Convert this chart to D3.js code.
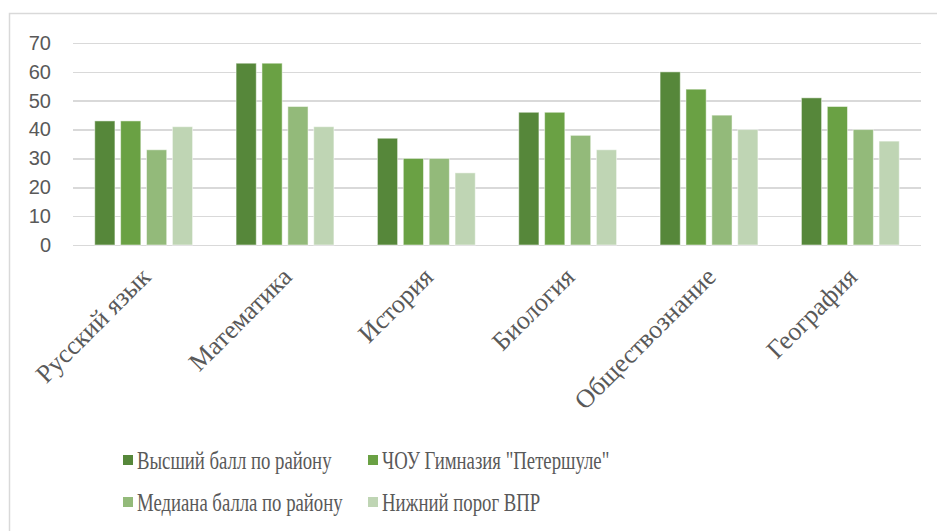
<!DOCTYPE html>
<html>
<head>
<meta charset="utf-8">
<style>
  body { margin: 0; background: #fff; }
  .grid line { stroke: #d9d9d9; stroke-width: 1.5; shape-rendering: crispEdges; }
  .grid path { stroke-width: 0; }
  .yax text { font-family: "Liberation Sans", Arial, sans-serif; font-size: 20px; fill: #595959; }
  .cat { font-family: "Liberation Serif", "Times New Roman", serif; font-size: 26px; fill: #595959; }
  .leg { font-family: "Liberation Serif", "Times New Roman", serif; font-size: 25px; fill: #595959; }
</style>
</head>
<body>
<svg width="937" height="531"></svg>
<script src="https://d3js.org/d3.v7.min.js"></script>
<script>
var subjects = ["Русский язык", "Математика", "История", "Биология", "Обществознание", "География"];
var seriesNames = ["Высший балл по району", "ЧОУ Гимназия \"Петершуле\"", "Медиана балла по району", "Нижний порог ВПР"];
var topDistrict = [43, 63, 37, 46, 60, 51];
var school      = [43, 63, 30, 46, 54, 48];
var median      = [33, 48, 30, 38, 45, 40];
var threshold   = [41, 41, 25, 33, 40, 36];
var yTicks = [0, 10, 20, 30, 40, 50, 60, 70];
var colors = ["#56873a", "#6aa144", "#93ba7a", "#bfd5b4"];

var series = [topDistrict, school, median, threshold];

var svg = d3.select("svg");

// chart frame (runs off the right/bottom edges)
svg.append("rect")
    .attr("x", 9.5).attr("y", 13.5)
    .attr("width", 950).attr("height", 540)
    .attr("fill", "none").attr("stroke", "#d9d9d9").attr("stroke-width", 1.5);

var plotL = 73, plotR = 921, plotT = 43, plotB = 245;

var x = d3.scaleBand().domain(subjects).range([plotL, plotR]);
var xs = d3.scaleBand().domain(d3.range(series.length)).range([0, x.bandwidth()]).paddingInner(0.22).paddingOuter(0.84);
var y = d3.scaleLinear().domain([0, 70]).range([plotB, plotT]);

// gridlines
svg.append("g")
    .attr("class", "grid")
    .attr("transform", "translate(" + plotL + ",0)")
    .call(d3.axisLeft(y).tickValues(yTicks).tickSize(-(plotR - plotL)).tickFormat(""));

// y labels
var yax = svg.append("g")
    .attr("class", "yax")
    .attr("transform", "translate(" + plotL + ",0)")
    .call(d3.axisLeft(y).tickValues(yTicks).tickSize(0).tickPadding(22));
yax.select(".domain").remove();
yax.selectAll("text").style("fill", "#595959");

// bars
var groups = svg.selectAll("g.cat-group")
    .data(subjects)
    .enter().append("g")
    .attr("class", "cat-group")
    .attr("transform", function(d) { return "translate(" + x(d) + ",0)"; });

groups.selectAll("rect")
    .data(function(d, i) { return series.map(function(s, k) { return {k: k, v: s[i]}; }); })
    .enter().append("rect")
    .attr("x", function(d) { return xs(d.k); })
    .attr("width", xs.bandwidth())
    .attr("y", function(d) { return y(d.v); })
    .attr("height", function(d) { return plotB - y(d.v); })
    .attr("fill", function(d) { return colors[d.k]; })
    .attr("stroke", "#ffffff").attr("stroke-opacity", 0.5).attr("stroke-width", 1);

// category labels, rotated
svg.selectAll("text.cat")
    .data(subjects)
    .enter().append("text")
    .attr("class", "cat")
    .attr("text-anchor", "end")
    .attr("transform", function(d) {
      return "translate(" + (x(d) + x.bandwidth() / 2 + 2) + "," + 272 + ") rotate(-45)";
    })
    .attr("dy", "0.35em")
    .text(function(d) { return d; });

// legend
var legPos = [[123, 460], [368, 460], [123, 502], [368, 502]];
var leg = svg.selectAll("g.legend")
    .data(seriesNames)
    .enter().append("g")
    .attr("class", "legend")
    .attr("transform", function(d, i) { return "translate(" + legPos[i][0] + "," + legPos[i][1] + ")"; });
leg.append("rect")
    .attr("x", 0).attr("y", -5).attr("width", 10).attr("height", 10)
    .attr("fill", function(d, i) { return colors[i]; });
leg.append("text")
    .attr("class", "leg")
    .attr("transform", "translate(14,0) scale(0.75,1)")
    .attr("dy", "0.35em")
    .text(function(d) { return d; });
</script>
</body>
</html>
